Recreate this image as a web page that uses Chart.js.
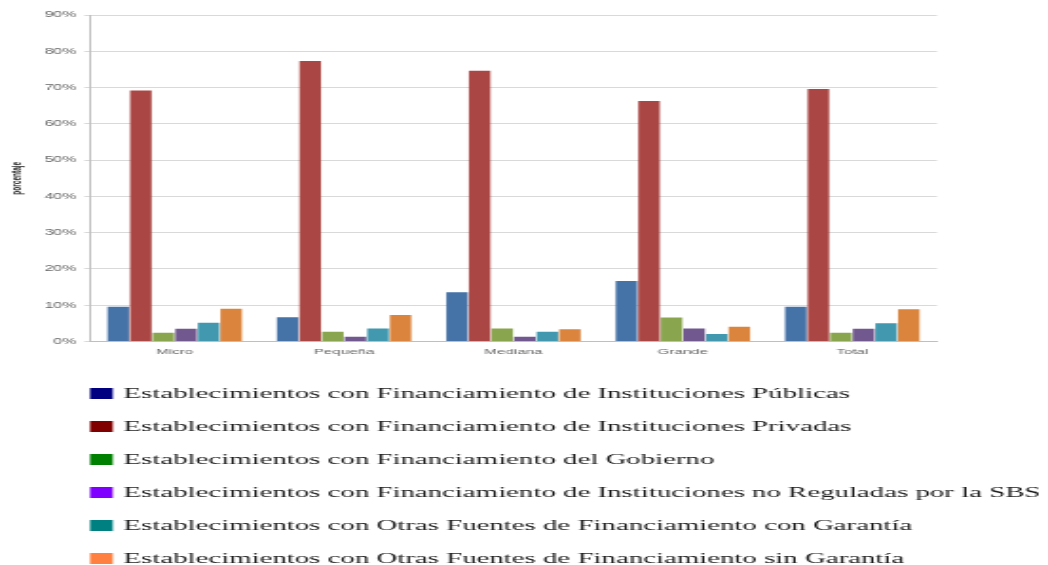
<!DOCTYPE html>
<html>
<head>
<meta charset="utf-8">
<script src="https://cdn.jsdelivr.net/npm/chart.js@4.4.1/dist/chart.umd.min.js"></script>
<style>
  html, body { margin: 0; padding: 0; background: #fff; overflow: hidden; }
  /* the chart is laid out narrow and widened horizontally */
  #wrap { width: 552px; height: 565px; transform: scaleX(1.8986); transform-origin: 0 0; }
  canvas { display: block; }
</style>
</head>
<body>
<div id="wrap"><canvas id="c" width="552" height="565"></canvas></div>
<script>
// Categories (company size)
const categories = ['Micro', 'Pequeña', 'Mediana', 'Grande', 'Total'];

// Series names
const seriesNames = [
  'Establecimientos con Financiamiento de Instituciones Públicas',
  'Establecimientos con Financiamiento de Instituciones Privadas',
  'Establecimientos con Financiamiento del Gobierno',
  'Establecimientos con Financiamiento de Instituciones no Reguladas por la SBS',
  'Establecimientos con Otras Fuentes de Financiamiento con Garantía',
  'Establecimientos con Otras Fuentes de Financiamiento sin Garantía'
];

// Percentages per series
const publicas     = [9.6, 6.7, 13.6, 16.7, 9.6];
const privadas     = [69.2, 77.3, 74.6, 66.3, 69.6];
const gobierno     = [2.4, 2.7, 3.6, 6.6, 2.4];
const noReguladas  = [3.5, 1.3, 1.3, 3.6, 3.5];
const conGarantia  = [5.2, 3.6, 2.7, 2.1, 5.0];
const sinGarantia  = [9.0, 7.3, 3.4, 4.1, 8.9];

// Y axis tick labels
const yTickLabels = ['0%', '10%', '20%', '30%', '40%', '50%', '60%', '70%', '80%', '90%'];
const yTitle = 'porcentaje';

const seriesValues = [publicas, privadas, gobierno, noReguladas, conGarantia, sinGarantia];
const barColors    = ['#4572A7', '#AA4643', '#89A54E', '#71588F', '#4198AF', '#DB843D'];
const legendColors = ['#000080', '#800000', '#008000', '#8000FF', '#008080', '#FF8040'];

// Legend list drawn below the plot, one entry per row
const listLegend = {
  id: 'listLegend',
  afterDraw(chart) {
    const ctx = chart.ctx;
    ctx.save();
    ctx.font = '15.2px "Liberation Serif", "Times New Roman", serif';
    ctx.textBaseline = 'middle';
    ctx.textAlign = 'left';
    chart.data.datasets.forEach((ds, i) => {
      const y = 393.5 + i * 33;
      ctx.fillStyle = legendColors[i];
      ctx.fillRect(47.4, y - 5.5, 12, 11);
      ctx.fillStyle = '#1a1a1a';
      ctx.fillText(ds.label, 65, y + 0.5);
    });
    ctx.restore();
  }
};

new Chart(document.getElementById('c'), {
  type: 'bar',
  data: {
    labels: categories,
    datasets: seriesNames.map((name, i) => ({
      label: name,
      data: seriesValues[i],
      backgroundColor: barColors[i],
      borderWidth: 0,
      categoryPercentage: 0.8,
      barPercentage: 0.95
    }))
  },
  options: {
    responsive: false,
    animation: false,
    devicePixelRatio: 1,
    layout: { padding: { top: 15, right: 58.5, bottom: 203.5, left: 0 } },
    plugins: {
      legend: { display: false },
      tooltip: { enabled: false }
    },
    scales: {
      x: {
        grid: { display: false, drawTicks: false },
        border: { color: '#bfbfbf', width: 1 },
        ticks: { color: '#666', font: { size: 8, family: 'Arial, "Liberation Sans", sans-serif' }, padding: 5 },
        afterFit: (axis) => { axis.height = 20; }
      },
      y: {
        min: 0,
        max: 90,
        ticks: {
          stepSize: 10,
          color: '#666',
          font: { size: 8.5, family: 'Arial, "Liberation Sans", sans-serif' },
          padding: 4,
          callback: (v, i) => yTickLabels[i]
        },
        grid: { color: '#d9d9d9', lineWidth: 1, tickLength: 3 },
        border: { color: '#bfbfbf', width: 1 },
        title: {
          display: true,
          text: yTitle,
          color: '#222',
          font: { size: 6.5, weight: 'bold', family: 'Arial, "Liberation Sans", sans-serif' },
          padding: { top: 5, bottom: 0 }
        },
        afterFit: (axis) => { axis.width = 47.4; }
      }
    }
  },
  plugins: [listLegend]
});
</script>
</body>
</html>
